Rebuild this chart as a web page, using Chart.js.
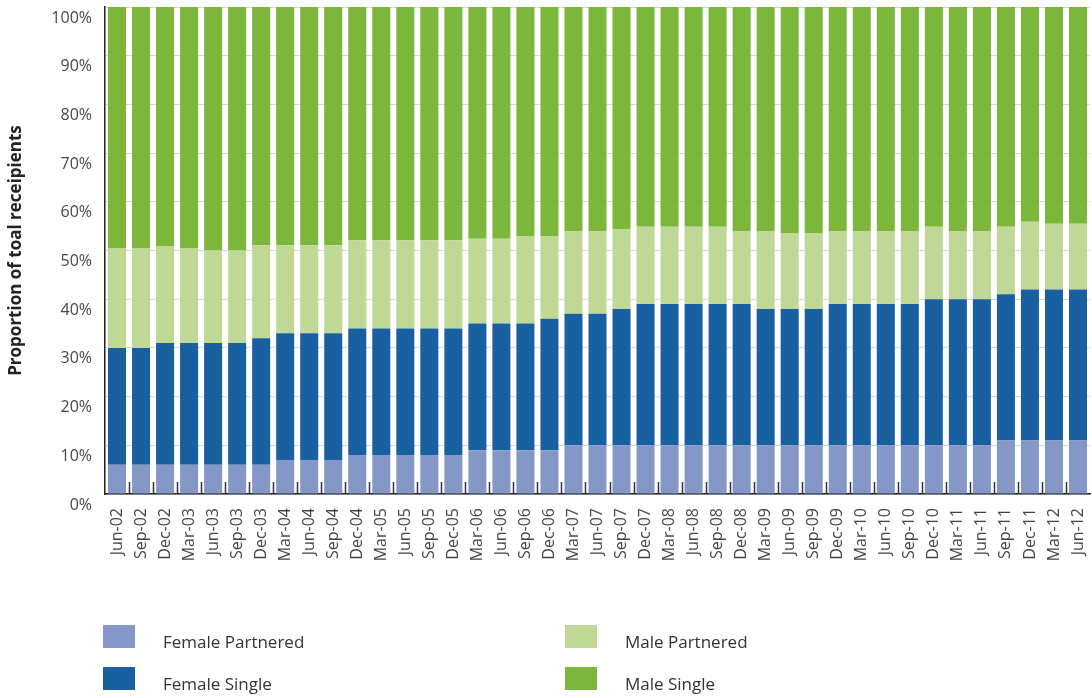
<!DOCTYPE html>
<html>
<head>
<meta charset="utf-8">
<script src="https://cdn.jsdelivr.net/npm/chart.js"></script>
<style>
  html, body { margin: 0; padding: 0; background: #fff; }
  #wrap { position: relative; width: 1092px; height: 698px; }
  #legend { position: absolute; left: 0; top: 0; width: 100%; height: 100%; pointer-events: none;
    font-family: "Open Sans", sans-serif; font-size: 17px; color: #333; }
  .item { position: absolute; display: flex; align-items: flex-start; }
  .box { width: 32px; height: 23px; margin-right: 28px; }
  .txt { margin-top: 5px; line-height: 23px; }
</style>
</head>
<body>
<div id="wrap">
  <canvas id="chart" width="1092" height="698"></canvas>
  <div id="legend"></div>
</div>
<script>
const quarters = ['Jun-02', 'Sep-02', 'Dec-02', 'Mar-03', 'Jun-03', 'Sep-03', 'Dec-03', 'Mar-04', 'Jun-04',
  'Sep-04', 'Dec-04', 'Mar-05', 'Jun-05', 'Sep-05', 'Dec-05', 'Mar-06', 'Jun-06', 'Sep-06', 'Dec-06',
  'Mar-07', 'Jun-07', 'Sep-07', 'Dec-07', 'Mar-08', 'Jun-08', 'Sep-08', 'Dec-08', 'Mar-09', 'Jun-09',
  'Sep-09', 'Dec-09', 'Mar-10', 'Jun-10', 'Sep-10', 'Dec-10', 'Mar-11', 'Jun-11', 'Sep-11', 'Dec-11',
  'Mar-12', 'Jun-12'];

// share of total recipients, in percent
const femalePartnered = [6, 6, 6, 6, 6, 6, 6, 7, 7, 7, 8, 8, 8, 8, 8, 9, 9, 9, 9, 10, 10,
  10, 10, 10, 10, 10, 10, 10, 10, 10, 10, 10, 10, 10, 10, 10, 10, 11, 11, 11, 11];
const femaleSingle = [24, 24, 25, 25, 25, 25, 26, 26, 26, 26, 26, 26, 26, 26, 26, 26, 26, 26, 27, 27, 27,
  28, 29, 29, 29, 29, 29, 28, 28, 28, 29, 29, 29, 29, 30, 30, 30, 30, 31, 31, 31];
const malePartnered = [20.4, 20.4, 19.9, 19.4, 19, 19, 19.1, 18.1, 18.1, 18.1, 18.1, 18.1, 18.1, 18.1, 18.1,
  17.4, 17.4, 18, 17, 17, 17, 16.4, 15.9, 15.9, 15.9, 15.9, 15, 16, 15.5, 15.5, 15, 15, 15, 15,
  14.9, 14, 14, 13.9, 13.9, 13.5, 13.5];
const maleSingle = [49.6, 49.6, 49.1, 49.6, 50, 50, 48.9, 48.9, 48.9, 48.9, 47.9, 47.9, 47.9, 47.9, 47.9,
  47.6, 47.6, 47, 47, 46, 46, 45.6, 45.1, 45.1, 45.1, 45.1, 46, 46, 46.5, 46.5, 46, 46, 46, 46,
  45.1, 46, 46, 45.1, 44.1, 44.5, 44.5];

const yTicks = [0, 10, 20, 30, 40, 50, 60, 70, 80, 90, 100];

const series = [
  { label: 'Female Partnered', data: femalePartnered, color: '#8497c6' },
  { label: 'Female Single', data: femaleSingle, color: '#18609f' },
  { label: 'Male Partnered', data: malePartnered, color: '#bfd896' },
  { label: 'Male Single', data: maleSingle, color: '#7cb63a' },
];

// little tick marks pointing up from the x axis, between the bars
const innerTicks = {
  id: 'innerTicks',
  afterDatasetsDraw(chart) {
    const { ctx, scales: { x }, chartArea } = chart;
    ctx.save();
    ctx.strokeStyle = '#333';
    ctx.lineWidth = 1.5;
    for (let i = 1; i < quarters.length; i++) {
      const px = Math.round((x.getPixelForValue(i - 1) + x.getPixelForValue(i)) / 2) + 0.5;
      ctx.beginPath();
      ctx.moveTo(px, chartArea.bottom);
      ctx.lineTo(px, chartArea.bottom - 12);
      ctx.stroke();
    }
    ctx.restore();
  },
};

const tickFont = { family: 'Open Sans', size: 16 };

const chart = new Chart(document.getElementById('chart'), {
  type: 'bar',
  data: {
    labels: quarters,
    datasets: series.map((s) => ({
      label: s.label,
      data: s.data,
      backgroundColor: s.color,
      borderWidth: 0,
      barPercentage: 0.75,
      categoryPercentage: 1,
    })),
  },
  options: {
    responsive: false,
    animation: false,
    layout: { padding: { top: 7, right: 2, bottom: 134, left: 0 } },
    plugins: { legend: { display: false }, tooltip: { enabled: false } },
    scales: {
      x: {
        stacked: true,
        grid: { display: false, drawTicks: false },
        border: { display: true, color: '#222', width: 1.5 },
        ticks: {
          autoSkip: false,
          minRotation: 90,
          maxRotation: 90,
          padding: 14,
          color: '#444',
          font: tickFont,
        },
        afterFit(scale) {
          scale.height = 70;
          scale.paddingLeft = 0;
          scale.paddingRight = 0;
        },
      },
      y: {
        stacked: true,
        min: 0,
        max: 100,
        afterBuildTicks(scale) {
          scale.ticks = yTicks.map((v) => ({ value: v }));
        },
        grid: { color: '#d6d6d6', lineWidth: 1, drawTicks: false },
        border: { display: true, color: '#222', width: 1.5 },
        ticks: {
          padding: 13,
          labelOffset: 11,
          color: '#484848',
          font: tickFont,
          callback: (v) => `${v}%`,
        },
        title: {
          display: true,
          text: 'Proportion of toal receipients',
          color: '#222',
          font: { family: 'Open Sans', size: 17, weight: 'bold' },
          padding: { top: 6, bottom: 0 },
        },
        afterFit(scale) {
          scale.width = 105;
          scale.paddingTop = 0;
          scale.paddingBottom = 0;
        },
      },
    },
  },
  plugins: [innerTicks],
});

// legend in two columns under the chart
const legendPos = [
  { left: 103, top: 625 },
  { left: 103, top: 667 },
  { left: 565, top: 625 },
  { left: 565, top: 667 },
];
const legend = document.getElementById('legend');
chart.data.datasets.forEach((ds, i) => {
  const item = document.createElement('div');
  item.className = 'item';
  item.style.left = `${legendPos[i].left}px`;
  item.style.top = `${legendPos[i].top}px`;
  const box = document.createElement('span');
  box.className = 'box';
  box.style.background = ds.backgroundColor;
  const txt = document.createElement('span');
  txt.className = 'txt';
  txt.textContent = ds.label;
  item.append(box, txt);
  legend.append(item);
});
</script>
</body>
</html>
